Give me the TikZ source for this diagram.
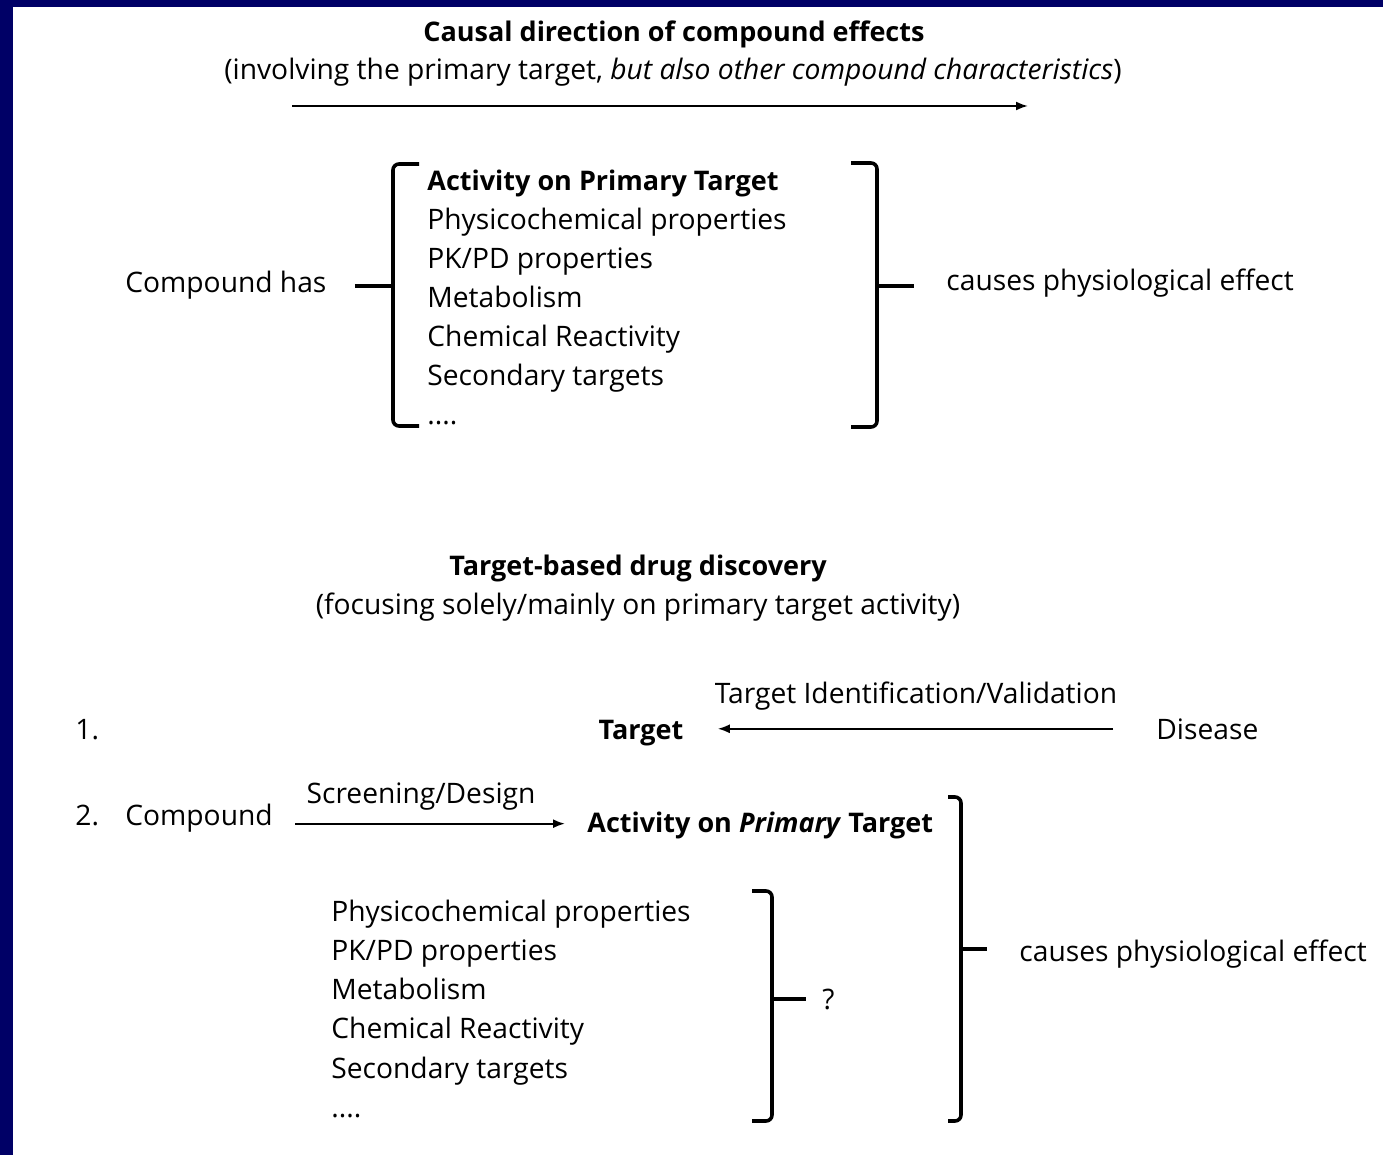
\documentclass[tikz,border=0pt]{standalone}
\usepackage{fontspec}
\setmainfont{Open Sans}
\usetikzlibrary{arrows.meta}
\definecolor{frameblue}{RGB}{0,0,102}
\tikzset{
  txt/.style={font=\fontsize{14.1}{17}\selectfont, inner sep=0pt},
  btxt/.style={font=\fontsize{13.5}{17}\selectfont\bfseries, inner sep=0pt},
  conn/.style={line width=1pt, -{Latex[length=6pt,width=4.5pt]}},
  brace/.style={line width=1.8pt, rounded corners=3pt},
}

\begin{document}
\begin{tikzpicture}[x=0.5pt,y=-0.5pt]
        % frame
        \fill[frameblue] (0,0) rectangle (1383,1155);
        \fill[white] (13,7) rectangle (1383,1155);
        
        \node[btxt] (title1) at (674,34) {Causal direction of compound effects};
        \node[txt] (sub1) at (673,72) {(involving the primary target, \textit{but also other compound characteristics})};
        \coordinate (dirA) at (292,106);
        \coordinate (dirB) at (1028,106);
        \draw[conn] (dirA) -- (dirB);
        
        \node[txt,anchor=base west] (has) at (125,293) {Compound has};
        \node[btxt,anchor=base west] (a1) at (427,191) {Activity on Primary Target};
        \foreach \t [count=\i from 2] in {Physicochemical properties,PK/PD properties,Metabolism,Chemical Reactivity,Secondary targets}
            \node[txt,anchor=base west] (a\i) at (427,{191+39*(\i-1)}) {\t};
        \node[txt,anchor=base west] (a7) at (427,425) {....};
        \node[txt,anchor=base west] (eff1) at (946,291) {causes physiological effect};
        
        \draw[brace] (419,164) -- (393,164) -- (393,426) -- (419,426);
        \coordinate (lb) at (393,286);
        \draw[brace] ([xshift=14pt]has.east |- lb) -- (lb);
        \draw[brace] (851,163) -- (877,163) -- (877,427) -- (851,427);
        \coordinate (rb) at (877,286);
        \draw[brace] (rb) -- ([xshift=-16pt]eff1.west |- rb);
        
        \node[btxt] (title2) at (638,568) {Target-based drug discovery};
        \node[txt] (sub2) at (638,607) {(focusing solely/mainly on primary target activity)};
        
        \node[txt,anchor=base west] (one) at (75,739) {1.};
        \node[btxt,anchor=base] (tgt) at (641,739) {Target};
        \node[txt,anchor=base west] (dis) at (1156,739) {Disease};
        \node[txt,anchor=base] (tiv) at (916,703) {Target Identification/Validation};
        \draw[conn] ([xshift=-21.5pt]dis.west) -- ([xshift=17pt]dis.west -| tgt.east);
        
        \node[txt,anchor=base west] (two) at (75,825) {2.};
        \node[txt,anchor=base west] (cmp) at (125,825) {Compound};
        \node[btxt,anchor=base west] (act) at (587,832) {Activity on \textit{Primary} Target};
        \node[txt,anchor=base] (scr) at (421,803) {Screening/Design};
        \draw[conn] ([xshift=11pt,yshift=-3pt]cmp.east) -- ([xshift=-11pt,yshift=-3pt]cmp.east -| act.west);
        
        \foreach \t [count=\i] in {Physicochemical properties,PK/PD properties,Metabolism,Chemical Reactivity,Secondary targets}
            \node[txt,anchor=base west] (b\i) at (331,{921+39.3*(\i-1)}) {\t};
        \node[txt,anchor=base west] (b6) at (331,1117.5) {....};
        \node[txt,anchor=base west] (q) at (822,1009) {?};
        \node[txt,anchor=base west] (eff2) at (1019,961) {causes physiological effect};
        
        \draw[brace] (752,891) -- (772,891) -- (772,1121) -- (752,1121);
        \coordinate (ib) at (772,999);
        \draw[brace] (ib) -- ([xshift=-8pt]q.west |- ib);
        \draw[brace] (948,797) -- (961,797) -- (961,1121) -- (948,1121);
        \coordinate (ob) at (961,949);
        \draw[brace] (ob) -- ([xshift=-16pt]eff2.west |- ob);
        
\end{tikzpicture}
\end{document}
